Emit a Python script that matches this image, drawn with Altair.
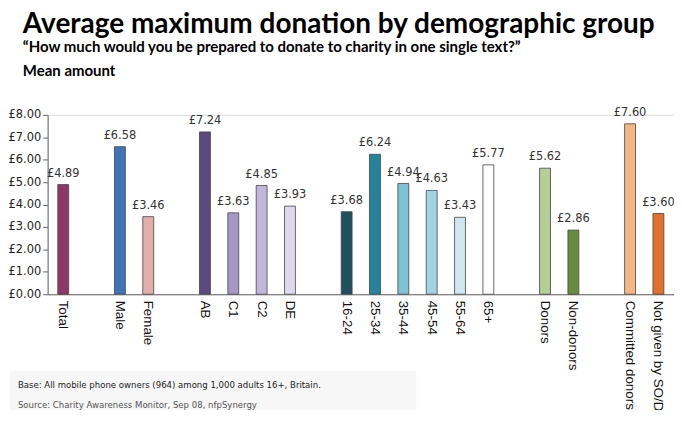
import altair as alt
import pandas as pd

categories = ["Total", "Male", "Female", "AB", "C1", "C2", "DE",
              "16-24", "25-34", "35-44", "45-54", "55-64", "65+",
              "Donors", "Non-donors", "Committed donors", "Not given by SO/DD"]
values = [4.89, 6.58, 3.46, 7.24, 3.63, 4.85, 3.93,
          3.68, 6.24, 4.94, 4.63, 3.43, 5.77,
          5.62, 2.86, 7.60, 3.60]
colors = ["#8e3766", "#3f74b6", "#e2aeac", "#5a4a7e", "#a597c6", "#c1b7db", "#dedaec",
          "#1f5060", "#25849c", "#7cc3d6", "#a2d3e2", "#cfe7f0", "#ffffff",
          "#b3cf97", "#6b8c3f", "#f6b583", "#e2702a"]
# x slots including gaps between groups
slot_order = ["Total", " ", "Male", "Female", "  ", "AB", "C1", "C2", "DE", "   ",
              "16-24", "25-34", "35-44", "45-54", "55-64", "65+", "    ",
              "Donors", "Non-donors", "     ", "Committed donors", "Not given by SO/DD"]
y_ticks = [0, 1, 2, 3, 4, 5, 6, 7, 8]

title_text = "Average maximum donation by demographic group"
subtitle_text = "\u201cHow much would you be prepared to donate to charity in one single text?\u201d"
measure_text = "Mean amount"
base_text = "Base: All mobile phone owners (964) among 1,000 adults 16+, Britain."
source_text = "Source: Charity Awareness Monitor, Sep 08, nfpSynergy"

df = pd.DataFrame({"cat": categories, "value": values, "color": colors})

x = alt.X("cat:N", sort=slot_order,
          scale=alt.Scale(domain=slot_order, paddingInner=0, paddingOuter=0.05),
          axis=alt.Axis(title=None, labelAngle=90, labelAlign="left", labelBaseline="middle",
                        labelFont="Liberation Sans", labelFontSize=13.5, labelColor="#111",
                        labelPadding=6, ticks=False, domainColor="#666", domainWidth=1.2,
                        labelLimit=200))
y = alt.Y("value:Q", scale=alt.Scale(domain=[0, 8]),
          axis=alt.Axis(title=None, values=y_ticks, grid=False, labelOverlap=False,
                        labelExpr="'£' + format(datum.value, '.2f')",
                        labelFont="DejaVu Sans", labelFontSize=11.5, labelColor="#222",
                        tickSize=5, tickColor="#666", domainColor="#666", labelPadding=2))

base = alt.Chart(df)

bars = base.mark_bar(size=11, stroke="#444", strokeWidth=1, strokeOpacity=0.8).encode(
    x=x, y=y, color=alt.Color("color:N", scale=None))

labels = base.transform_calculate(
    lab="'£' + format(datum.value, '.2f')"
).mark_text(dy=-11, font="DejaVu Sans", fontSize=11.5, color="#333").encode(
    x=x, y=y, text="lab:N")

def txt(s, xp, yp, size, weight="normal", font="Lato", color="#000"):
    return alt.Chart(pd.DataFrame({"t": [s]})).mark_text(
        align="left", baseline="alphabetic", fontSize=size, fontWeight=weight,
        font=font, color=color).encode(x=alt.value(xp), y=alt.value(yp), text="t:N")

bg = alt.Chart(pd.DataFrame({"a": [0]})).mark_rect(color="#f7f7f7").encode(
    x=alt.value(-38), x2=alt.value(372), y=alt.value(258), y2=alt.value(313))

foot_font = "'Liberation Sans Narrow', 'Arial Narrow', 'DejaVu Sans Condensed', 'Liberation Sans', sans-serif"
t1 = txt(title_text, -25, -83, 28.2, "bold")
t2 = txt(subtitle_text, -25, -63, 15.1, "bold")
t3 = txt(measure_text, -25, -39, 15.1, "bold")
f1 = txt(base_text, -30, 276, 9.6, font=foot_font, color="#222")
f2 = txt(source_text, -30, 296, 9.6, font=foot_font, color="#555")

chart = alt.layer(bg, bars, labels, t1, t2, t3, f1, f2).properties(
    width=632, height=181,
    autosize=alt.AutoSizeParams(type="none"),
    padding={"left": 40, "top": 106, "right": 0, "bottom": 115},
).configure_view(stroke=None).configure(background="white")

chart.save("out.html", embed_options={"renderer": "svg", "actions": False})
